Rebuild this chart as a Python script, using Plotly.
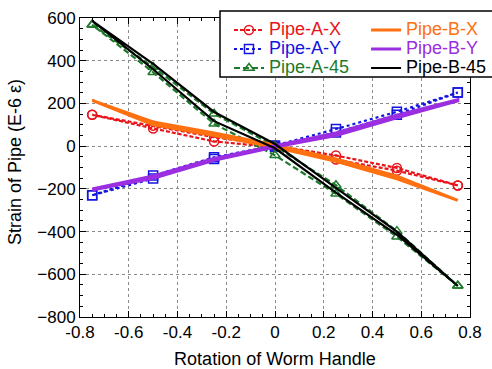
import plotly.graph_objects as go

# Rotation positions (one sweep); loops go out and back
rotation = [-0.75, -0.5, -0.25, 0.0, 0.25, 0.5, 0.75]

# Pipe A (with markers)
a_x_up = [147, 96, 42, 3, -44, -102, -184]
a_x_dn = [147, 83, 22, -5, -63, -115, -184]
a_y_up = [-230, -138, -52, 3, 80, 161, 251]
a_y_dn = [-230, -152, -60, -3, 64, 147, 251]
a_45_up = [568, 371, 152, 0, -183, -398, -654]
a_45_dn = [568, 346, 105, -43, -223, -424, -654]

# Pipe B (lines only)
b_x_up = [214, 113, 62, 5, -60, -141, -254]
b_x_dn = [214, 100, 50, -5, -71, -153, -254]
b_y_up = [-200, -140, -58, 2, 62, 145, 217]
b_y_dn = [-206, -150, -66, -4, 50, 133, 212]
b_45_up = [587, 385, 160, 10, -195, -400, -655]
b_45_dn = [587, 360, 117, -10, -218, -415, -655]

x_ticks = [-0.8, -0.6, -0.4, -0.2, 0, 0.2, 0.4, 0.6, 0.8]
x_tick_text = ["-0.8", "-0.6", "-0.4", "-0.2", "0", "0.2", "0.4", "0.6", "0.8"]
y_ticks = [-800, -600, -400, -200, 0, 200, 400, 600]

x_title = "Rotation of Worm Handle"
y_title = "Strain of Pipe (E-6 ε)"


def loop(up, dn):
    xs = rotation + rotation[::-1]
    ys = up + dn[::-1]
    return xs, ys


FONT = "Liberation Sans, Arial, Helvetica, sans-serif"
fig = go.Figure()

series_a = [
    ("Pipe-A-X", a_x_up, a_x_dn, "#e8141a", "4px,2px", "circle-open"),
    ("Pipe-A-Y", a_y_up, a_y_dn, "#1414e0", "dot", "square-open"),
    ("Pipe-A-45", a_45_up, a_45_dn, "#1d7a2a", "6px,3px", "triangle-up-open"),
]
series_b = [
    ("Pipe-B-X", b_x_up, b_x_dn, "#ff7010", 3),
    ("Pipe-B-Y", b_y_up, b_y_dn, "#9a2ee0", 3),
    ("Pipe-B-45", b_45_up, b_45_dn, "#000000", 2.2),
]


def legend_label(name, col):
    return f"<span style='color:{col};font-size:18px'>{name}</span>"


for name, up, dn, col, dash, sym in series_a:
    xs, ys = loop(up, dn)
    fig.add_trace(go.Scatter(
        x=xs, y=ys, name=legend_label(name, col),
        mode="lines+markers", legend="legend",
        line=dict(color=col, width=2.2, dash=dash),
        marker=dict(symbol=sym, size=9, color=col, line=dict(width=1.5, color=col)),
    ))

for name, up, dn, col, w in series_b:
    xs, ys = loop(up, dn)
    fig.add_trace(go.Scatter(
        x=xs, y=ys, name=legend_label(name, col),
        mode="lines", legend="legend2",
        line=dict(color=col, width=w),
    ))

axis_common = dict(
    showline=True, linecolor="black", linewidth=1, mirror="allticks",
    ticks="inside", ticklen=6, tickcolor="black",
    showgrid=True, gridcolor="#8a8a8a", griddash="dot", gridwidth=1,
    zeroline=False, tickfont=dict(family=FONT, size=17, color="black"),
    automargin=False,
)

fig.update_xaxes(
    range=[-0.8, 0.8], tickvals=x_ticks, ticktext=x_tick_text,
    minor=dict(dtick=0.05, tick0=0, ticks="inside", ticklen=3, tickcolor="black", showgrid=False),
    title=dict(text=x_title, font=dict(family=FONT, size=18, color="black")),
    **axis_common,
)
fig.update_yaxes(
    range=[-800, 600], tickvals=y_ticks,
    minor=dict(dtick=50, tick0=0, ticks="inside", ticklen=3, tickcolor="black", showgrid=False),
    **axis_common,
)

legend_font = dict(family=FONT, size=12, color="black")
fig.update_layout(
    width=492, height=369,
    margin=dict(l=80, r=22, t=18, b=52, autoexpand=False),
    plot_bgcolor="white", paper_bgcolor="white",
    showlegend=True,
    legend=dict(xref="container", yref="container", x=0.4654, y=0.958,
                xanchor="left", yanchor="top", bgcolor="rgba(0,0,0,0)",
                borderwidth=0, font=legend_font, tracegroupgap=0, itemwidth=30),
    legend2=dict(xref="container", yref="container", x=0.744, y=0.958,
                 xanchor="left", yanchor="top", bgcolor="rgba(0,0,0,0)",
                 borderwidth=0, font=legend_font, tracegroupgap=0, itemwidth=30),
    shapes=[dict(type="rect", xref="paper", yref="paper", x0=0.359, x1=1.06, y0=0.803, y1=1.023,
                 line=dict(color="black", width=1.5), fillcolor="white", layer="above")],
    annotations=[dict(text=y_title, textangle=-90, xref="paper", yref="paper",
                      x=-0.167, y=0.518, xanchor="center", yanchor="middle", showarrow=False,
                      font=dict(family=FONT, size=18, color="black"))],
)

fig.write_html("out.html", config={"displayModeBar": False},
               post_script="document.body.style.margin='0';document.body.style.overflow='hidden';")
